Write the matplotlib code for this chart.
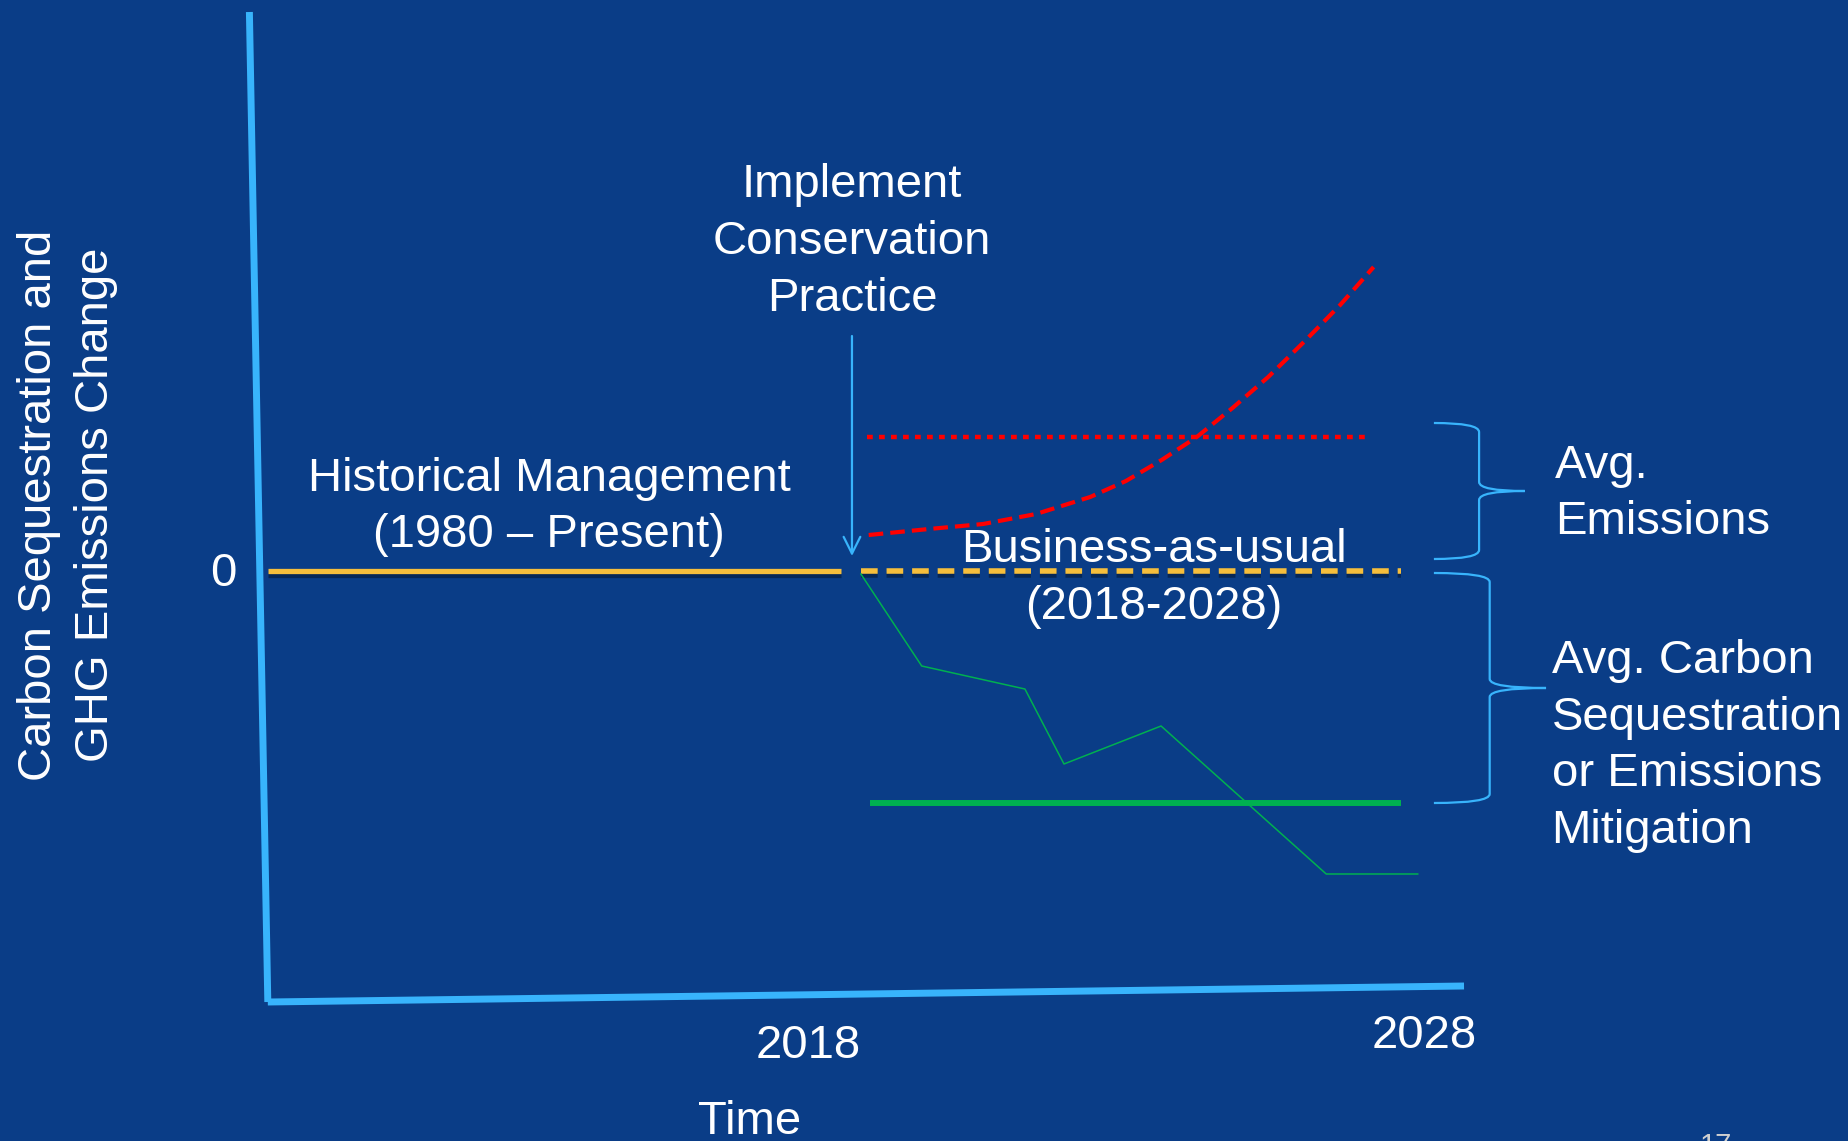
import matplotlib
matplotlib.use("Agg")
import matplotlib.pyplot as plt
import matplotlib.patheffects as pe
from matplotlib.path import Path
from matplotlib.patches import PathPatch

# schematic units: x in years, y in arbitrary change units (0 = baseline)
hist_x = [2007.53, 2017.8]
hist_y = [0, 0]
bau_x = [2018.16, 2027.84]
bau_y = [0, 0]

avg_em_x = [2018.27, 2027.3]
avg_em_y = [1.34, 1.34]
em_x = [2018.30, 2019.38, 2020.35, 2021.30, 2022.27, 2022.91, 2023.55,
        2024.18, 2024.82, 2025.46, 2026.10, 2026.75, 2027.35]
em_y = [0.36, 0.42, 0.47, 0.57, 0.74, 0.90, 1.11, 1.34, 1.63, 1.94, 2.29, 2.66, 3.04]

avg_seq_x = [2018.32, 2027.84]
avg_seq_y = [-2.32, -2.32]
seq_x = [2018.16, 2019.25, 2021.1, 2021.8, 2023.54, 2026.5, 2028.14]
seq_y = [-0.03, -0.95, -1.18, -1.93, -1.55, -3.03, -3.03]

# hand drawn axes of the slide (slightly tilted)
yaxis_x = [2007.2, 2007.53]
yaxis_y = [5.59, -4.31]
xaxis_x = [2007.53, 2028.97]
xaxis_y = [-4.31, -4.15]

BG = "#0A3D87"
AXBLUE = "#38B4FC"
GOLD = "#F6BE3C"
RED = "#FF0000"
GREEN = "#00B050"

plt.rcParams["font.family"] = ["Liberation Sans", "DejaVu Sans"]

fig = plt.figure(figsize=(18.49, 11.41), dpi=100)
fig.patch.set_facecolor(BG)
ax = fig.add_axes([0, 0, 1, 1])
ax.set_facecolor(BG)
ax.set_xlim(2002.73, 2035.87)
ax.set_ylim(-5.70, 5.71)
ax.axis("off")

ax.plot(yaxis_x, yaxis_y, color=AXBLUE, lw=5, solid_capstyle="butt")
ax.plot(xaxis_x, xaxis_y, color=AXBLUE, lw=5, solid_capstyle="butt")

shadow = [pe.SimpleLineShadow(offset=(0, -3), shadow_color="black", alpha=0.35), pe.Normal()]
ax.plot(hist_x, hist_y, color=GOLD, lw=3.8, solid_capstyle="butt", path_effects=shadow)
ax.plot(bau_x, bau_y, color=GOLD, lw=4, dashes=(3, 1.6), dash_capstyle="butt",
        path_effects=shadow)

ax.plot(avg_em_x, avg_em_y, color=RED, lw=3.2, dashes=(1.3, 1.4), dash_capstyle="butt")
ax.plot(em_x, em_y, color=RED, lw=3, dashes=(3.5, 1.7), dash_capstyle="butt")

ax.plot(seq_x, seq_y, color=GREEN, lw=1.1)
ax.plot(avg_seq_x, avg_seq_y, color=GREEN, lw=4.3, solid_capstyle="butt")

# implementation arrow
ax.annotate("", xy=(2018, 0.15), xytext=(2018, 2.35),
            arrowprops=dict(arrowstyle="->", color=AXBLUE, lw=1.6,
                            mutation_scale=30, shrinkA=0, shrinkB=0))


def brace(x0, xm, xt, ytop, ybot, ytip, r=0.09):
    verts = [(x0, ytop), (xm, ytop), (xm, ytop - r),
             (xm, ytip + r),
             (xm, ytip), (xt, ytip),
             (xm, ytip), (xm, ytip - r),
             (xm, ybot + r),
             (xm, ybot), (x0, ybot)]
    codes = [Path.MOVETO, Path.CURVE3, Path.CURVE3,
             Path.LINETO,
             Path.CURVE3, Path.CURVE3,
             Path.CURVE3, Path.CURVE3,
             Path.LINETO,
             Path.CURVE3, Path.CURVE3]
    ax.add_patch(PathPatch(Path(verts, codes), fill=False, edgecolor=AXBLUE, lw=1.6))


brace(2028.43, 2029.24, 2030.06, 1.48, 0.12, 0.80)
brace(2028.43, 2029.43, 2030.44, -0.02, -2.32, -1.17)

fs = 34
txt = dict(color="white", fontsize=fs, linespacing=1.38)
ax.text(2018, 3.29, "Implement\nConservation\nPractice", ha="center", va="center",
        multialignment="center", **txt)
ax.text(2012.57, 0.64, "Historical Management\n(1980 \u2013 Present)", ha="center",
        va="center", multialignment="center", **txt)
ax.text(2023.41, -0.075, "Business-as-usual\n(2018-2028)", ha="center", va="center",
        multialignment="center", **txt)
ax.text(2030.6, 0.77, "Avg.\nEmissions", ha="left", va="center", **txt)
ax.text(2030.54, -1.75, "Avg. Carbon\nSequestration\nor Emissions\nMitigation",
        ha="left", va="center", **txt)
ax.text(2006.73, -0.035, "0", ha="center", va="center", **txt)
ax.text(2017.21, -4.75, "2018", ha="center", va="center", **txt)
ax.text(2028.25, -4.65, "2028", ha="center", va="center", **txt)
ax.text(2016.17, -5.51, "Time", ha="center", va="center", **txt)
ax.text(2003.94, 0.66, "Carbon Sequestration and\nGHG Emissions Change", ha="center",
        va="center", rotation=90, multialignment="center", **txt)
ax.text(2033.48, -5.61, "17", ha="center", va="top", color="#D0D0D0", fontsize=21)

fig.savefig("out.png", dpi=100, facecolor=BG)
